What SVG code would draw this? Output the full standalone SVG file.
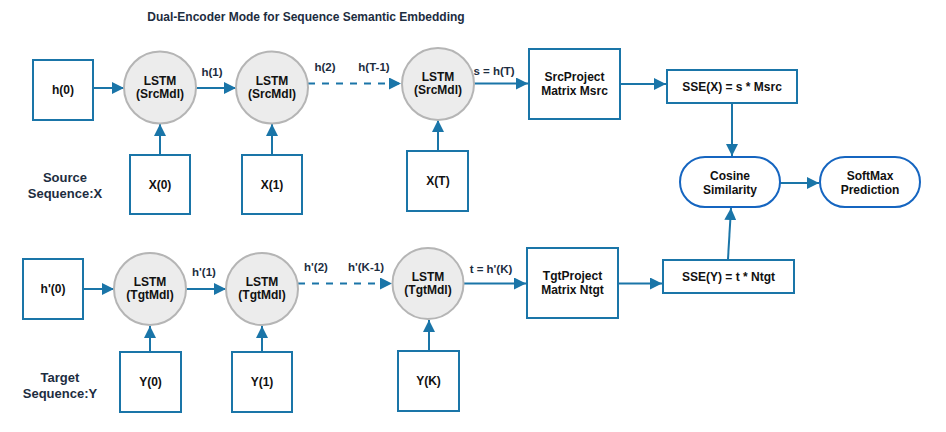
<svg xmlns="http://www.w3.org/2000/svg" width="946" height="432" viewBox="0 0 946 432">
<style>
text{font-family:"Liberation Sans",Arial,sans-serif;font-weight:bold;fill:#111;text-anchor:middle}
.t{font-size:12px}
.lbl{font-size:11.5px;fill:#1d2d3f}
.title{font-size:12px;fill:#1d2d3f}
.side{font-size:13px;fill:#1d2d3f}
.box{fill:#fff;stroke:#1a75a8;stroke-width:2}
.cell{fill:#ececec;stroke:#b5b5b5;stroke-width:2}
.pill{fill:#fff;stroke:#1565c0;stroke-width:2}
.c{fill:none;stroke:#1a75a8;stroke-width:2}
.d{stroke-dasharray:7 7}
</style>
<defs>
<marker id="a" markerWidth="12" markerHeight="12" refX="12" refY="6" orient="auto" markerUnits="userSpaceOnUse">
<path d="M0,0 L12,6 L0,12 Z" fill="#1a75a8"/>
</marker>
</defs>
<text class="title" x="306" y="21">Dual-Encoder Mode for Sequence Semantic Embedding</text>
<text class="side" x="65" y="182">Source</text>
<text class="side" x="65" y="198">Sequence:X</text>
<text class="side" x="60" y="382">Target</text>
<text class="side" x="60" y="398">Sequence:Y</text>

<g id="connectors">
<path class="c" d="M93,88 H124" marker-end="url(#a)"/>
<path class="c" d="M196,88 H236" marker-end="url(#a)"/>
<path class="c d" d="M308,83.5 H401" marker-end="url(#a)"/>
<path class="c" d="M474,83.5 H528" marker-end="url(#a)"/>
<path class="c" d="M620,84 H666" marker-end="url(#a)"/>
<path class="c" d="M160,155 V124" marker-end="url(#a)"/>
<path class="c" d="M272,155 V124" marker-end="url(#a)"/>
<path class="c" d="M438,151 V120" marker-end="url(#a)"/>
<path class="c" d="M732,103 V156" marker-end="url(#a)"/>
<path class="c" d="M780,183 H819" marker-end="url(#a)"/>
<path class="c" d="M728,259 L731,208" marker-end="url(#a)"/>
<path class="c" d="M83,289 H114" marker-end="url(#a)"/>
<path class="c" d="M186,289 H226" marker-end="url(#a)"/>
<path class="c d" d="M298,283.5 H392" marker-end="url(#a)"/>
<path class="c" d="M464,283.5 H526" marker-end="url(#a)"/>
<path class="c" d="M618,283.5 H662" marker-end="url(#a)"/>
<path class="c" d="M150,352 V326" marker-end="url(#a)"/>
<path class="c" d="M262,352 V326" marker-end="url(#a)"/>
<path class="c" d="M429,351 V320" marker-end="url(#a)"/>
<text class="lbl" x="212" y="76">h(1)</text>
<text class="lbl" x="325" y="71">h(2)</text>
<text class="lbl" x="374" y="71">h(T-1)</text>
<text class="lbl" x="494" y="75">s = h(T)</text>
<text class="lbl" x="204" y="276">h'(1)</text>
<text class="lbl" x="316" y="271">h'(2)</text>
<text class="lbl" x="366" y="271">h'(K-1)</text>
<text class="lbl" x="491" y="273">t = h'(K)</text>
</g>

<g id="h0"><rect class="box" x="33" y="60" width="60" height="60"/><text class="t" x="63" y="94">h(0)</text></g>
<g id="lstm_s1"><circle class="cell" cx="160" cy="87.5" r="36"/><text class="t" x="160" y="85">LSTM</text><text class="t" x="160" y="98">(SrcMdl)</text></g>
<g id="lstm_s2"><circle class="cell" cx="272" cy="87.5" r="36"/><text class="t" x="272" y="85">LSTM</text><text class="t" x="272" y="98">(SrcMdl)</text></g>
<g id="lstm_s3"><circle class="cell" cx="438" cy="84" r="36"/><text class="t" x="438" y="81">LSTM</text><text class="t" x="438" y="94">(SrcMdl)</text></g>
<g id="x0"><rect class="box" x="130" y="155" width="60" height="59"/><text class="t" x="160" y="189">X(0)</text></g>
<g id="x1"><rect class="box" x="242" y="155" width="60" height="59"/><text class="t" x="272" y="189">X(1)</text></g>
<g id="xT"><rect class="box" x="407" y="151" width="61" height="60"/><text class="t" x="438" y="185">X(T)</text></g>
<g id="srcproj"><rect class="box" x="529" y="49" width="91" height="70"/><text class="t" x="574.5" y="81">SrcProject</text><text class="t" x="574.5" y="95">Matrix Msrc</text></g>
<g id="ssex"><rect class="box" x="667" y="70" width="130" height="33"/><text class="t" x="732" y="91">SSE(X) = s * Msrc</text></g>
<g id="cosine"><rect class="pill" x="680" y="157" width="100" height="50" rx="25"/><text class="t" x="730" y="180">Cosine</text><text class="t" x="730" y="194">Similarity</text></g>
<g id="softmax"><rect class="pill" x="820" y="157" width="100" height="50" rx="25"/><text class="t" x="870" y="180">SoftMax</text><text class="t" x="870" y="194">Prediction</text></g>

<g id="h0p"><rect class="box" x="23" y="259" width="60" height="60"/><text class="t" x="53" y="293">h'(0)</text></g>
<g id="lstm_t1"><circle class="cell" cx="150" cy="289" r="36"/><text class="t" x="150" y="286">LSTM</text><text class="t" x="150" y="299">(TgtMdl)</text></g>
<g id="lstm_t2"><circle class="cell" cx="262" cy="289" r="36"/><text class="t" x="262" y="286">LSTM</text><text class="t" x="262" y="299">(TgtMdl)</text></g>
<g id="lstm_t3"><circle class="cell" cx="428" cy="283.5" r="35.5"/><text class="t" x="428" y="281">LSTM</text><text class="t" x="428" y="294">(TgtMdl)</text></g>
<g id="y0"><rect class="box" x="120" y="352" width="61" height="60"/><text class="t" x="150.5" y="386">Y(0)</text></g>
<g id="y1"><rect class="box" x="232" y="352" width="60" height="60"/><text class="t" x="262" y="386">Y(1)</text></g>
<g id="yK"><rect class="box" x="398" y="351" width="61" height="60"/><text class="t" x="428.5" y="385">Y(K)</text></g>
<g id="tgtproj"><rect class="box" x="527" y="248" width="91" height="70"/><text class="t" x="572.5" y="280">TgtProject</text><text class="t" x="572.5" y="294">Matrix Ntgt</text></g>
<g id="ssey"><rect class="box" x="663" y="260" width="131" height="33"/><text class="t" x="728.5" y="281">SSE(Y) = t * Ntgt</text></g>
</svg>
